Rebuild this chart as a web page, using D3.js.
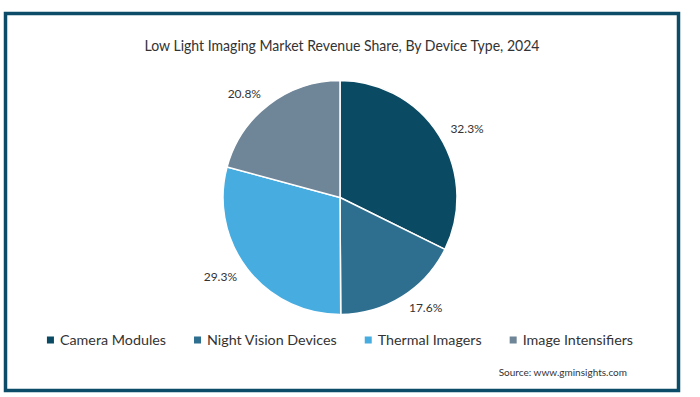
<!DOCTYPE html>
<html><head><meta charset="utf-8">
<script src="https://cdn.jsdelivr.net/npm/d3@7"></script>
<style>body{margin:0;background:#fff;} svg{display:block;font-family:Lato,"Open Sans",sans-serif;}</style>
</head><body><svg id="c" width="700" height="397"></svg>
<script>
const categories = ["Camera Modules","Night Vision Devices","Thermal Imagers","Image Intensifiers"];
const shares = [32.3, 17.6, 29.3, 20.8];
const colors = ["#0b4a63","#2e6f8f","#47ade1","#6f8598"];
const title = "Low Light Imaging Market Revenue Share, By Device Type, 2024";
const source = "Source: www.gminsights.com";

const svg = d3.select("#c");
svg.append("rect").attr("x",5.5).attr("y",13.5).attr("width",673).attr("height",377)
  .attr("fill","#fff").attr("stroke","#0d4c68").attr("stroke-width",3.5);

svg.append("text").attr("x",342).attr("y",50.5).attr("text-anchor","middle")
  .attr("font-size",15).attr("fill","#333").attr("textLength",395).attr("lengthAdjust","spacingAndGlyphs").text(title);

const cx=340, cy=197.5, r=117;
const pie = d3.pie().sort(null).value(d=>d)(shares);
const arc = d3.arc().innerRadius(0).outerRadius(r);
const g = svg.append("g").attr("transform",`translate(${cx},${cy})`);
g.selectAll("path").data(pie).join("path").attr("d",arc)
  .attr("fill",(d,i)=>colors[i]).attr("stroke","#fff").attr("stroke-width",1.5);
g.selectAll("text").data(pie).join("text")
  .each(function(d){
    const a=(d.startAngle+d.endAngle)/2, dd=130;
    const x=Math.sin(a)*dd, y=-Math.cos(a)*dd;
    d3.select(this).attr("x",x).attr("y",y).attr("dy","0.35em")
      .attr("text-anchor", x>=0?"start":"end");
  })
  .attr("font-size",12).attr("fill","#333").text(d=>d.value.toFixed(1)+"%");

const lg = svg.append("g");
let x=0;
categories.forEach((c,i)=>{
  const it=lg.append("g").attr("transform",`translate(${x},0)`);
  it.append("rect").attr("x",0).attr("y",-3).attr("width",7).attr("height",7).attr("fill",colors[i]);
  const t=it.append("text").attr("x",13).attr("y",0).attr("dy","0.35em").attr("font-size",14.3).attr("fill","#333").text(c);
  const w=t.node().getComputedTextLength();
  x += 13 + w + 28;
});
const total = x-28;
lg.attr("transform",`translate(${340-total/2},339.5)`);

svg.append("text").attr("x",627).attr("y",375.5).attr("text-anchor","end")
  .attr("font-size",10).attr("fill","#333").text(source);
</script></body></html>
